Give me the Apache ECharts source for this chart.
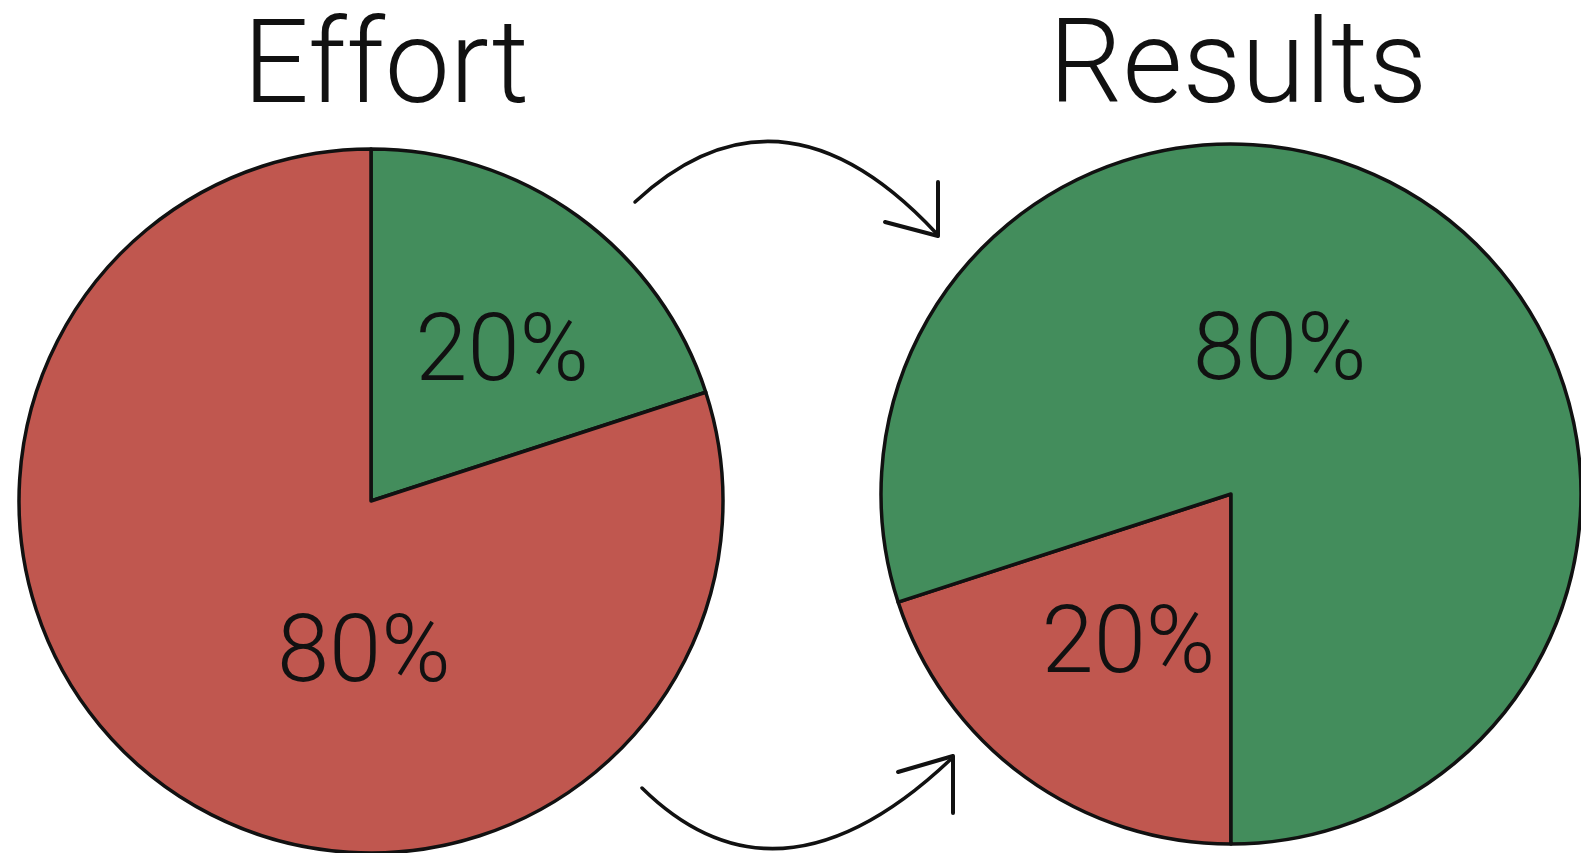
<!DOCTYPE html>
<html><head><meta charset="utf-8">
<script src="https://cdn.jsdelivr.net/npm/echarts@6/dist/echarts.min.js"></script>
<style>html,body{margin:0;padding:0;background:#fff}#c{width:1581px;height:853px}</style>
</head><body><div id="c"></div>
<script>
const pieTitles = ['Effort', 'Results'];
const categories = ['Vital few', 'Trivial many'];
const effortValues = [20, 80];   // green, red
const resultsValues = [20, 80];  // red, green
const GREEN = '#438d5c', RED = '#c0574f';
const FONT = 'Roboto, "Open Sans", sans-serif';

const chart = echarts.init(document.getElementById('c'));
const lbl = (dx, dy) => ({ show: true, position: 'inside', offset: [dx, dy], formatter: '{c}%',
  color: '#111', fontSize: 94, fontWeight: 300, fontFamily: FONT });
chart.setOption({
  backgroundColor: '#fff',
  title: [
    { text: pieTitles[0], left: 381, top: 10, textAlign: 'center',
      textStyle: { fontSize: 116, fontWeight: 300, fontFamily: FONT, color: '#111' } },
    { text: pieTitles[1], left: 1233, top: 10, textAlign: 'center',
      textStyle: { fontSize: 116, fontWeight: 300, fontFamily: FONT, color: '#111' } }
  ],
  series: [
    { type: 'pie', center: [371, 501], radius: 352, startAngle: 90, clockwise: true,
      animation: false, silent: true, labelLine: { show: false },
      itemStyle: { borderColor: '#111', borderWidth: 3.5 },
      data: [
        { name: categories[0], value: effortValues[0], itemStyle: { color: GREEN }, label: lbl(26, 0) },
        { name: categories[1], value: effortValues[1], itemStyle: { color: RED }, label: lbl(98, 12) }
      ] },
    { type: 'pie', center: [1231, 494], radius: 350, startAngle: 270, clockwise: true,
      animation: false, silent: true, labelLine: { show: false },
      itemStyle: { borderColor: '#111', borderWidth: 3.5 },
      data: [
        { name: categories[0], value: resultsValues[0], itemStyle: { color: RED }, label: lbl(2, 10) },
        { name: categories[1], value: resultsValues[1], itemStyle: { color: GREEN }, label: lbl(-56, 6) }
      ] }
  ],
  graphic: [
    { type: 'bezierCurve', shape: { x1: 635, y1: 202, cpx1: 781, cpy1: 67, x2: 936, y2: 233 },
      style: { stroke: '#111', lineWidth: 3.5, fill: null, lineCap: 'round' } },
    { type: 'polyline', shape: { points: [[885, 222], [938, 236], [938, 182]] },
      style: { stroke: '#111', lineWidth: 4, fill: null, lineCap: 'round', lineJoin: 'round' } },
    { type: 'bezierCurve', shape: { x1: 642, y1: 788, cpx1: 778, cpy1: 922, x2: 950, y2: 760 },
      style: { stroke: '#111', lineWidth: 3.5, fill: null, lineCap: 'round' } },
    { type: 'polyline', shape: { points: [[898, 772], [953, 756], [953, 813]] },
      style: { stroke: '#111', lineWidth: 4, fill: null, lineCap: 'round', lineJoin: 'round' } }
  ]
});
</script></body></html>
